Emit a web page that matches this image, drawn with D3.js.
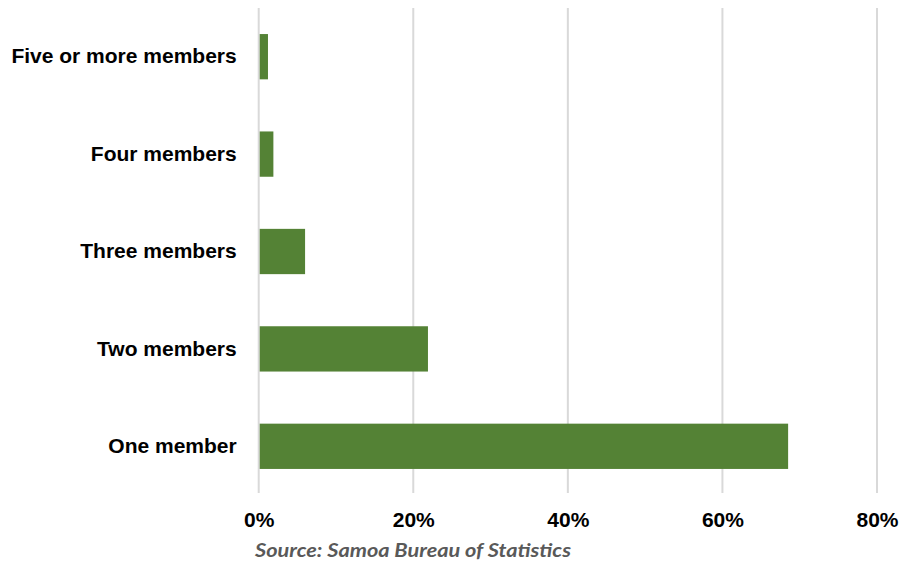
<!DOCTYPE html>
<html>
<head>
<meta charset="utf-8">
<script src="https://cdn.jsdelivr.net/npm/d3@7"></script>
<style>
  html, body { margin: 0; padding: 0; background: #ffffff; }
  svg { display: block; }
</style>
</head>
<body>
<svg id="chart" width="899" height="563"></svg>
<script>
const categories = ["Five or more members", "Four members", "Three members", "Two members", "One member"];
const values = [1.2, 1.9, 6.0, 21.9, 68.5];
const tickValues = [0, 20, 40, 60, 80];
const sourceText = "Source: Samoa Bureau of Statistics";

const W = 899, H = 563;
const plot = { left: 258.7, right: 877, top: 8, bottom: 495, gridBottom: 493 };

const svg = d3.select("#chart");

const x = d3.scaleLinear().domain([0, 80]).range([plot.left, plot.right]);
const y = d3.scaleBand().domain(categories).range([plot.top, plot.bottom])
  .paddingInner(0.535).paddingOuter(0.2675);

// gridlines
svg.append("g").selectAll("line").data(tickValues).join("line")
  .attr("x1", d => x(d)).attr("x2", d => x(d))
  .attr("y1", plot.top).attr("y2", plot.gridBottom)
  .attr("stroke", "#d9d9d9").attr("stroke-width", 2);

// bars
const data = categories.map((c, i) => ({ c, v: values[i] }));
svg.append("g").selectAll("rect").data(data).join("rect")
  .attr("x", x(0) + 1)
  .attr("y", d => y(d.c))
  .attr("width", d => x(d.v) - x(0) - 1)
  .attr("height", y.bandwidth())
  .attr("fill", "#548235");

// x axis labels
const xAxis = svg.append("g")
  .attr("transform", `translate(0,${plot.gridBottom})`)
  .call(d3.axisBottom(x).tickValues(tickValues).tickFormat(d => d + "%").tickSize(0).tickPadding(19));
xAxis.select(".domain").remove();
xAxis.selectAll("text")
  .attr("font-family", "'Liberation Sans', Arial, sans-serif")
  .attr("font-weight", "bold").attr("font-size", 21).attr("fill", "#000");

// y axis labels
const yAxis = svg.append("g")
  .attr("transform", `translate(${plot.left},0)`)
  .call(d3.axisLeft(y).tickSize(0).tickPadding(22));
yAxis.select(".domain").remove();
yAxis.selectAll("text")
  .attr("font-family", "'Liberation Sans', Arial, sans-serif")
  .attr("font-weight", "bold").attr("font-size", 21).attr("fill", "#000");

// source
svg.append("text")
  .attr("x", 255).attr("y", 556.5)
  .attr("font-family", "Lato, 'Open Sans', sans-serif")
  .attr("font-style", "italic").attr("font-weight", "bold")
  .attr("font-size", 19.5).attr("fill", "#595959")
  .attr("textLength", 316).attr("lengthAdjust", "spacingAndGlyphs")
  .text(sourceText);
</script>
</body>
</html>
